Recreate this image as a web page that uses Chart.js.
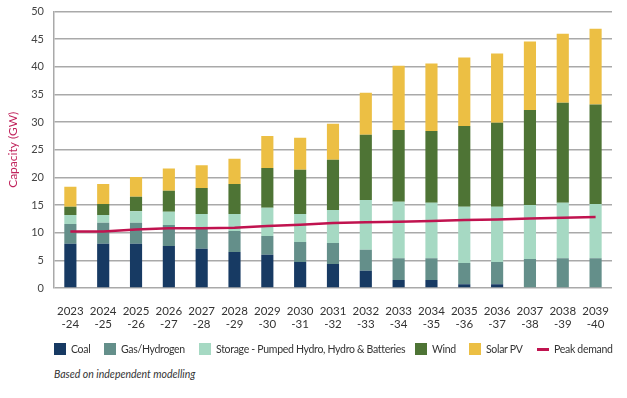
<!DOCTYPE html>
<html>
<head>
<meta charset="utf-8">
<script src="https://cdn.jsdelivr.net/npm/chart.js@4.4.1/dist/chart.umd.min.js"></script>
<style>
  body { margin: 0; background: #fff; font-family: Lato, "Open Sans", sans-serif; }
  #wrap { position: relative; width: 627px; height: 398px; overflow: hidden; }
  #chart-box { position: absolute; left: 0; top: -5px; width: 627px; height: 349px; }
  #legend { position: absolute; left: 0; top: 343px; width: 627px; height: 14px; font-size: 10.5px; letter-spacing: -0.3px; color: #333; }
  #legend .item { position: absolute; top: 0; display: flex; align-items: center; white-space: nowrap; height: 12px; }
  #legend .sw { width: 12px; height: 12px; margin-right: 5px; }
  #legend .ln { width: 12px; height: 3px; margin-right: 5px; }
  #note { position: absolute; left: 54px; top: 368px; font-size: 10.5px; font-style: italic; color: #333; }
</style>
</head>
<body>
<div id="wrap">
  <div id="chart-box"><canvas id="capacity-chart"></canvas></div>
  <div id="legend"></div>
  <div id="note">Based on independent modelling</div>
</div>
<script>
// données (GW)
const years = ["2023","2024","2025","2026","2027","2028","2029","2030","2031","2032","2033","2034","2035","2036","2037","2038","2039"];
const yearEnds = ["-24","-25","-26","-27","-28","-29","-30","-31","-32","-33","-34","-35","-36","-37","-38","-39","-40"];

const coal = [8.0, 8.0, 8.0, 7.6, 7.1, 6.5, 6.0, 4.7, 4.35, 3.1, 1.45, 1.45, 0.7, 0.7, 0, 0, 0];
const gasHydrogen = [3.6, 3.8, 3.8, 3.8, 3.6, 3.8, 3.4, 3.6, 3.8, 3.8, 3.95, 3.95, 3.8, 4.0, 5.25, 5.4, 5.4];
const storage = [1.6, 1.4, 2.1, 2.4, 2.7, 3.1, 5.1, 5.1, 5.95, 9.0, 10.2, 10.0, 10.2, 10.0, 9.75, 10.0, 9.8];
const wind = [1.5, 2.0, 2.6, 3.8, 4.7, 5.4, 7.2, 8.0, 9.1, 11.8, 13.0, 13.0, 14.6, 15.2, 17.2, 18.1, 18.0];
const solarPV = [3.6, 3.6, 3.6, 4.0, 4.1, 4.6, 5.8, 5.8, 6.5, 7.6, 11.6, 12.2, 12.4, 12.5, 12.4, 12.5, 13.7];
const peakDemand = [10.2, 10.2, 10.6, 10.8, 10.8, 10.9, 11.2, 11.45, 11.75, 11.9, 12.0, 12.1, 12.3, 12.4, 12.55, 12.7, 12.85];

const colors = {
    coal: "#173a63",
    gas: "#648f8a",
    storage: "#a6d9c3",
    wind: "#4e7435",
    solar: "#ecbf44",
    peak: "#c0134f"
};

// position (x) de chaque entrée de légende, comme sur l'original
const legendLeft = [54, 104, 199, 415, 469, 537];

function barSet(label, data, color) {
    return {
        type: "bar",
        label: label,
        data: data,
        backgroundColor: color,
        stack: "capacity",
        categoryPercentage: 1,
        barPercentage: 0.37,
        order: 2
    };
}

const datasets = [
    barSet("Coal", coal, colors.coal),
    barSet("Gas/Hydrogen", gasHydrogen, colors.gas),
    barSet("Storage - Pumped Hydro, Hydro & Batteries", storage, colors.storage),
    barSet("Wind", wind, colors.wind),
    barSet("Solar PV", solarPV, colors.solar),
    {
        type: "line",
        label: "Peak demand",
        data: peakDemand,
        borderColor: colors.peak,
        borderWidth: 2.5,
        pointRadius: 0,
        tension: 0,
        fill: false,
        stack: "demand",
        order: 1
    }
];

// légende en HTML
const legend = document.getElementById("legend");
datasets.forEach((ds, i) => {
    const isLine = ds.type === "line";
    const color = isLine ? ds.borderColor : ds.backgroundColor;
    legend.innerHTML += `<div class="item" style="left:${legendLeft[i]}px"><span class="${isLine ? 'ln' : 'sw'}" style="background:${color}"></span>${ds.label}</div>`;
});

new Chart(document.getElementById("capacity-chart"), {
    type: "bar",
    data: {
        labels: years.map((y, i) => [y, yearEnds[i]]),
        datasets: datasets
    },
    options: {
        responsive: true,
        maintainAspectRatio: false,
        animation: false,
        layout: { padding: { top: 0, right: 15, bottom: 4.4, left: 0 } },
        plugins: {
            legend: { display: false },
            tooltip: { enabled: false }
        },
        scales: {
            x: {
                stacked: true,
                grid: { display: false },
                border: { display: false },
                ticks: {
                    color: "#333",
                    font: { family: "Lato", size: 11.5 },
                    padding: 8,
                    maxRotation: 0,
                    autoSkip: false
                }
            },
            y: {
                stacked: true,
                min: 0,
                max: 50,
                grid: { color: "#a9a9a9", lineWidth: 1.5, drawTicks: false },
                border: { display: true, color: "#a9a9a9", width: 1.5 },
                ticks: {
                    stepSize: 5,
                    color: "#444",
                    font: { family: "Lato", size: 11 },
                    padding: 10
                },
                title: {
                    display: true,
                    text: "Capacity (GW)",
                    color: "#c0245c",
                    font: { family: "Lato", size: 12 },
                    padding: { top: 6.3, bottom: 0.5 }
                }
            }
        }
    }
});
</script>
</body>
</html>
